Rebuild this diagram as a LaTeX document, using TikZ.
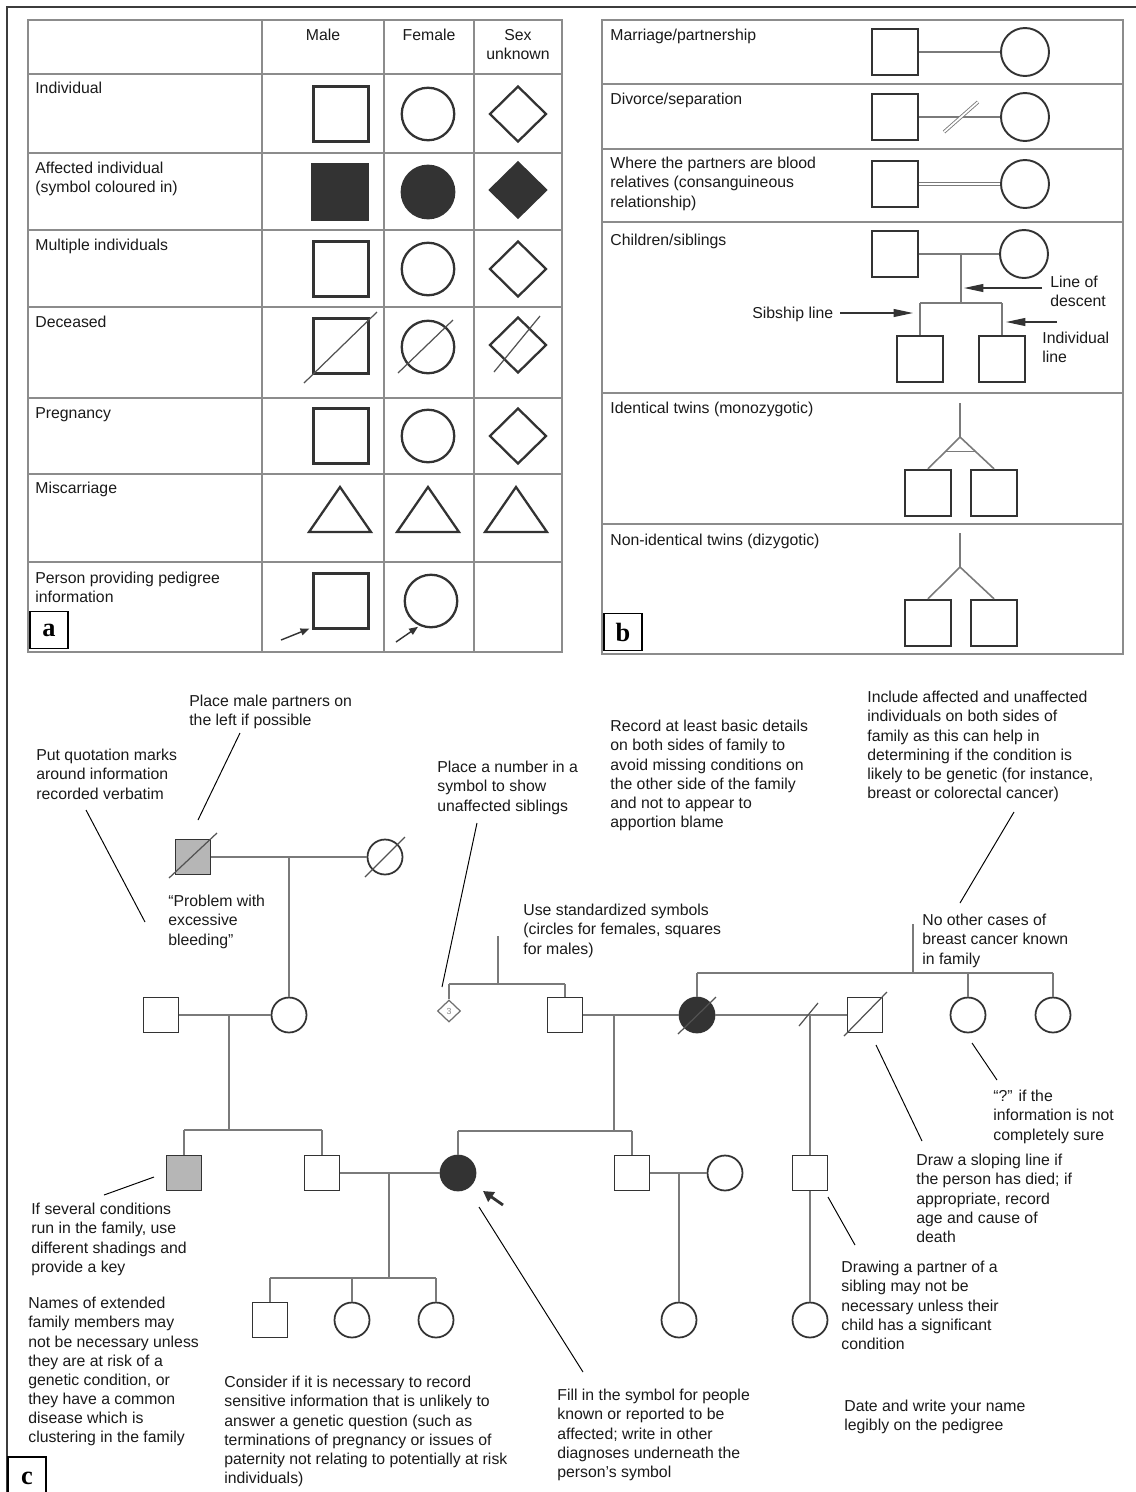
\documentclass[tikz,border=0pt]{standalone}
\usepackage{fontspec}
\setmainfont{Liberation Sans}
\newfontfamily\panelfont{Liberation Serif}
\usetikzlibrary{positioning,shapes.geometric,arrows.meta,calc}
\definecolor{txt}{HTML}{1A1A1A}
\definecolor{framec}{HTML}{3C3C3C}
\definecolor{gridgray}{HTML}{8C8C8C}
\definecolor{linegray}{HTML}{7A7A7A}
\definecolor{symc}{HTML}{333333}
\definecolor{shade}{HTML}{B6B6B6}
\newcommand{\notesize}{\fontsize{9}{10.9}\selectfont}

\tikzset{
  note/.style={anchor=north west, inner sep=0pt, align=left, font=\notesize, text=txt},
  colhead/.style={anchor=north, inner sep=0pt, align=center, font=\notesize, text=txt},
  tabline/.style={draw=gridgray, line width=1pt},
  conn/.style={draw=linegray, line width=0.9pt},
  twoline/.style={draw=linegray, line width=0.5pt, double=white, double distance=1pt},
  leader/.style={draw=black, line width=0.55pt},
  slash/.style={draw=symc!85, line width=0.7pt},
  % panel c symbols
  male/.style={rectangle, draw=symc, line width=1pt, minimum size=0.7cm, inner sep=0pt},
  female/.style={circle, draw=symc, line width=1pt, minimum size=0.7cm, inner sep=0pt},
  affected/.style={fill=symc},
  % panel a symbols
  bigmale/.style={rectangle, draw=symc, line width=1.3pt, minimum size=1.1cm, inner sep=0pt},
  bigfemale/.style={circle, draw=symc, line width=1.3pt, minimum size=1.05cm, inner sep=0pt},
  bigunknown/.style={diamond, draw=symc, line width=1.3pt, minimum width=1.14cm, minimum height=1.12cm, inner sep=0pt},
  % panel b symbols
  midmale/.style={rectangle, draw=symc, line width=1.1pt, minimum size=0.93cm, inner sep=0pt},
  midfemale/.style={circle, draw=symc, line width=1.1pt, minimum size=0.96cm, inner sep=0pt},
  pointer/.style={draw=symc, line width=0.7pt, -{Triangle[length=11pt,width=4.5pt]}},
  smallptr/.style={draw=symc, line width=0.8pt, -{Triangle[length=5pt,width=4pt]}},
  probptr/.style={draw=symc, line width=1.6pt, -{Triangle[length=6pt,width=6.5pt]}},
  panel/.style={draw=black, fill=white, line width=0.6pt, minimum width=0.76cm, minimum height=0.75cm, inner sep=0pt, font=\panelfont\bfseries\fontsize{15}{15}\selectfont},
}

\begin{document}
\begin{tikzpicture}[x=0.02cm, y=-0.02cm]
\useasboundingbox (0,0) rectangle (1136,1492);

% Outer frame
\draw[draw=framec, line width=1.1pt] (7,1500) -- (7,7) -- (1140,7);

% ---------------- Panel a: symbols ----------------
\draw[tabline] (28,20) rectangle (562,652);
\foreach \xx in {262,384,474} \draw[tabline] (\xx,20) -- (\xx,652);
\foreach \yy in {74,153,230,307,398,474,562} \draw[tabline] (28,\yy) -- (562,\yy);

\node[colhead] (hmale) at (323,29) {Male};
\node[colhead] (hfemale) at (429,29) {Female};
\node[colhead] (hunknown) at (518,29) {Sex\\unknown};

\node[note] (rowind) at (35,82) {Individual};
\node[note] (rowaff) at (35,162) {Affected individual\\(symbol coloured in)};
\node[note] (rowmult) at (35,239) {Multiple individuals};
\node[note] (rowdec) at (35,316) {Deceased};
\node[note] (rowpreg) at (35,407) {Pregnancy};
\node[note] (rowmis) at (35,482) {Miscarriage};
\node[note] (rowper) at (35,572) {Person providing pedigree\\information};

% plain rows
\foreach \r/\yy in {ind/114,mult/269,preg/436}{
  \node[bigmale] (am-\r) at (341,\yy) {};
  \node[bigfemale] (af-\r) at (428,\yy) {};
  \node[bigunknown] (au-\r) at (518,\yy) {};
}

% affected
\node[bigmale, affected] (am-aff) at (340,192) {};
\node[bigfemale, affected] (af-aff) at (428,192) {};
\node[bigunknown, affected] (au-aff) at (518,190) {};

% deceased
\node[bigmale] (am-dec) at (341,346) {};
\node[bigfemale] (af-dec) at (428,347) {};
\node[bigunknown] (au-dec) at (518,345) {};
\draw[slash] (am-dec.center) ++(-37,37) -- ++(73,-71);
\draw[slash] (af-dec.center) ++(-30,26) -- ++(55,-53);
\draw[slash] (au-dec.center) ++(-24,27) -- ++(46,-56);

% miscarriage
\foreach \xx in {340,428,516}
  \draw[draw=symc, line width=1.3pt] (\xx-31,532) -- (\xx,487) -- (\xx+31,532) -- cycle;

% person providing information
\node[bigmale] (am-per) at (341,601) {};
\node[bigfemale] (af-per) at (431,601) {};
\coordinate (pm0) at (281,640);
\coordinate (pf0) at (396,642);
\draw[smallptr] (pm0) -- ([shift={(-3,-1)}]am-per.south west);
\draw[smallptr, shorten >=1pt] (pf0) -- (af-per.245);

\node[panel] (lab-a) at (49,630) {a};

% ---------------- Panel b: relationships ----------------
\draw[tabline] (602,20) rectangle (1123,654);
\foreach \yy in {84,149,222,393,524} \draw[tabline] (602,\yy) -- (1123,\yy);

\node[note] (rowmar) at (610,29) {Marriage/partnership};
\node[note] (rowdiv) at (610,93) {Divorce/separation};
\node[note] (rowcon) at (610,157) {Where the partners are blood\\relatives (consanguineous\\relationship)};
\node[note] (rowchi) at (610,234) {Children/siblings};
\node[note] (rowid) at (610,402) {Identical twins (monozygotic)};
\node[note] (rownid) at (610,534) {Non-identical twins (dizygotic)};

% marriage
\node[midmale] (bm1) at (895,52) {};
\node[midfemale] (bf1) at (1025,52) {};
\draw[conn] (bm1) -- (bf1);

% divorce
\node[midmale] (bm2) at (895,117) {};
\node[midfemale] (bf2) at (1025,117) {};
\draw[conn] (bm2) -- (bf2);
\coordinate (dv) at (961,117);
\draw[twoline] (dv) ++(-17,15) -- ++(34,-30);

% consanguineous
\node[midmale] (bm3) at (895,184) {};
\node[midfemale] (bf3) at (1025,184) {};
\draw[twoline] (bm3) -- (bf3);

% children / siblings
\node[midmale] (bm4) at (895,254) {};
\node[midfemale] (bf4) at (1024,254) {};
\draw[conn] (bm4) -- (bf4);
\coordinate (bd) at (961,254);
\coordinate (bs) at (961,303);
\draw[conn] (bd) -- (bs);
\node[midmale] (bc1) at (920,359) {};
\node[midmale] (bc2) at (1002,359) {};
\draw[conn] (bc1 |- bs) -- (bc2 |- bs);
\draw[conn] (bc1 |- bs) -- (bc1);
\draw[conn] (bc2 |- bs) -- (bc2);

\node[note] (lbdesc) at (1050,276) {Line of\\descent};
\node[note] (lbsib) at (752,307) {Sibship line};
\node[note] (lbind) at (1042,332) {Individual\\line};
\coordinate (ld0) at (1042,288);
\coordinate (ld1) at (964,288);
\coordinate (sb0) at (840,313);
\coordinate (sb1) at (913,313);
\coordinate (il0) at (1057,322);
\coordinate (il1) at (1006,322);
\draw[pointer] (ld0) -- (ld1);
\draw[pointer] (sb0) -- (sb1);
\draw[pointer] (il0) -- (il1);

% identical twins
\coordinate (it0) at (960,403);
\coordinate (it1) at (960,437);
\node[midmale] (tw1) at (928,493) {};
\node[midmale] (tw2) at (994,493) {};
\draw[conn] (it0) -- (it1) -- (tw1.north);
\draw[conn] (it1) -- (tw2.north);
\draw[conn] ($(it1)!0.45!(tw1.north)$) -- ($(it1)!0.45!(tw2.north)$);

% non-identical twins
\coordinate (nt0) at (960,533);
\coordinate (nt1) at (960,567);
\node[midmale] (tw3) at (928,623) {};
\node[midmale] (tw4) at (994,623) {};
\draw[conn] (nt0) -- (nt1) -- (tw3.north);
\draw[conn] (nt1) -- (tw4.north);

\node[panel] (lab-b) at (623,632) {b};

% ---------------- Panel c: example pedigree ----------------
% generation I
\node[male, fill=shade] (g1m) at (193,857) {};
\node[female] (g1f) at (385,857) {};
\draw[conn] (g1m) -- (g1f);
\draw[slash] (g1m.center) ++(-24,21) -- ++(48,-45);
\draw[slash] (g1f.center) ++(-20,20) -- ++(40,-40);
\coordinate (m1) at (289,857);

% generation II
\node[male] (g2m1) at (161,1015) {};
\node[female] (g2f1) at (289,1015) {};
\draw[conn] (m1) -- (g2f1);
\draw[conn] (g2m1) -- (g2f1);

\coordinate (t3) at (498,936);
\coordinate (s3) at (498,984);
\node[diamond, draw=symc!70, line width=0.7pt, minimum width=0.46cm, minimum height=0.44cm, inner sep=0pt, font=\fontsize{5}{5}\selectfont, text=symc!60] (sibs3) at (449,1011) {3};
\node[male] (g2m2) at (565,1015) {};
\draw[conn] (t3) -- (s3);
\draw[conn] (sibs3 |- s3) -- (g2m2 |- s3);
\draw[conn] (sibs3 |- s3) -- (sibs3);
\draw[conn] (g2m2 |- s3) -- (g2m2);

\node[female, affected] (g2f2) at (697,1015) {};
\node[male] (g2m3) at (865,1015) {};
\node[female] (g2f3) at (968,1015) {};
\node[female] (g2f4) at (1053,1015) {};
\draw[conn] (g2m2) -- (g2f2);
\draw[conn] (g2f2) -- (g2m3);
\draw[slash] (g2f2.center) ++(-19,19) -- ++(38,-37);
\draw[slash] (g2m3.center) ++(-21,21) -- ++(43,-44);
\coordinate (t4) at (913,924);
\coordinate (s5) at (913,973);
\draw[conn] (t4) -- (s5);
\draw[conn] (g2f2 |- s5) -- (g2f4 |- s5);
\foreach \n in {g2f2,g2f3,g2f4} \draw[conn] (\n |- s5) -- (\n);
\coordinate (dv2) at (809,1015);
\draw[slash] (dv2) ++(-10,11) -- ++(19,-23);

% generation III
\coordinate (m2) at (229,1015);
\coordinate (s2) at (229,1130);
\node[male, fill=shade] (g3m1) at (184,1173) {};
\node[male] (g3m2) at (322,1173) {};
\draw[conn] (m2) -- (s2);
\draw[conn] (g3m1 |- s2) -- (g3m2 |- s2);
\draw[conn] (g3m1 |- s2) -- (g3m1);
\draw[conn] (g3m2 |- s2) -- (g3m2);

\coordinate (m3) at (614,1015);
\coordinate (s4) at (614,1131);
\node[female, affected] (g3f1) at (458,1173) {};
\node[male] (g3m3) at (632,1173) {};
\draw[conn] (m3) -- (s4);
\draw[conn] (g3f1 |- s4) -- (g3m3 |- s4);
\draw[conn] (g3f1 |- s4) -- (g3f1);
\draw[conn] (g3m3 |- s4) -- (g3m3);
\draw[conn] (g3m2) -- (g3f1);

\node[female] (g3f2) at (725,1173) {};
\draw[conn] (g3m3) -- (g3f2);
\node[male] (g3m4) at (810,1173) {};
\draw[conn] (dv2 -| g3m4) -- (g3m4);

\coordinate (pa0) at (503,1205);
\coordinate (pa1) at (483,1191);
\draw[probptr] (pa0) -- (pa1);

% generation IV
\coordinate (m6) at (389,1173);
\coordinate (s6) at (389,1278);
\node[male] (g4m1) at (270,1320) {};
\node[female] (g4f1) at (352,1320) {};
\node[female] (g4f2) at (436,1320) {};
\draw[conn] (m6) -- (s6);
\draw[conn] (g4m1 |- s6) -- (g4f2 |- s6);
\foreach \n in {g4m1,g4f1,g4f2} \draw[conn] (\n |- s6) -- (\n);

\coordinate (m5) at (679,1173);
\node[female] (g4f3) at (679,1320) {};
\draw[conn] (m5) -- (g4f3);
\node[female] (g4f4) at (810,1320) {};
\draw[conn] (g3m4) -- (g4f4);

% notes
\node[note] (nmale) at (189,695) {Place male partners on\\the left if possible};
\node[note] (nquote) at (36,749) {Put quotation marks\\around information\\recorded verbatim};
\node[note] (nbleed) at (168,895) {“Problem with\\excessive\\bleeding”};
\node[note] (nnumber) at (437,761) {Place a number in a\\symbol to show\\unaffected siblings};
\node[note] (nrecord) at (610,720) {Record at least basic details\\on both sides of family to\\avoid missing conditions on\\the other side of the family\\and not to appear to\\apportion blame};
\node[note] (ninclude) at (867,691) {Include affected and unaffected\\individuals on both sides of\\family as this can help in\\determining if the condition is\\likely to be genetic (for instance,\\breast or colorectal cancer)};
\node[note] (nstd) at (523,904) {Use standardized symbols\\(circles for females, squares\\for males)};
\node[note] (nother) at (922,914) {No other cases of\\breast cancer known\\in family};
\node[note] (nsure) at (993,1090) {“?” if the\\information is not\\completely sure};
\node[note] (nslope) at (916,1154) {Draw a sloping line if\\the person has died; if\\appropriate, record\\age and cause of\\death};
\node[note] (nshade) at (31,1203) {If several conditions\\run in the family, use\\different shadings and\\provide a key};
\node[note] (npartner) at (841,1261) {Drawing a partner of a\\sibling may not be\\necessary unless their\\child has a significant\\condition};
\node[note] (nnames) at (28,1297) {Names of extended\\family members may\\not be necessary unless\\they are at risk of a\\genetic condition, or\\they have a common\\disease which is\\clustering in the family};
\node[note] (nconsider) at (224,1376) {Consider if it is necessary to record\\sensitive information that is unlikely to\\answer a genetic question (such as\\terminations of pregnancy or issues of\\paternity not relating to potentially at risk\\individuals)};
\node[note] (nfill) at (557,1389) {Fill in the symbol for people\\known or reported to be\\affected; write in other\\diagnoses underneath the\\person’s symbol};
\node[note] (ndate) at (844,1400) {Date and write your name\\legibly on the pedigree};

% leader lines
\coordinate (l1a) at (240,733);  \coordinate (l1b) at (198,820);
\coordinate (l2a) at (86,810);   \coordinate (l2b) at (145,922);
\coordinate (l3a) at (477,823);  \coordinate (l3b) at (442,987);
\coordinate (l4a) at (1014,812); \coordinate (l4b) at (960,903);
\coordinate (l5a) at (972,1043); \coordinate (l5b) at (997,1080);
\coordinate (l6a) at (876,1045); \coordinate (l6b) at (922,1141);
\coordinate (l7a) at (104,1195); \coordinate (l7b) at (154,1177);
\coordinate (l8a) at (828,1197); \coordinate (l8b) at (855,1245);
\coordinate (l9a) at (479,1207); \coordinate (l9b) at (583,1372);
\foreach \k in {1,...,9} \draw[leader] (l\k a) -- (l\k b);

% panel label c
\draw[draw=black, line width=0.6pt] (8,1500) -- (8,1457) -- (46,1457) -- (46,1500);
\node[inner sep=0pt, font=\panelfont\bfseries\fontsize{15}{15}\selectfont] (lab-c) at (27,1478) {c};

\end{tikzpicture}
\end{document}
